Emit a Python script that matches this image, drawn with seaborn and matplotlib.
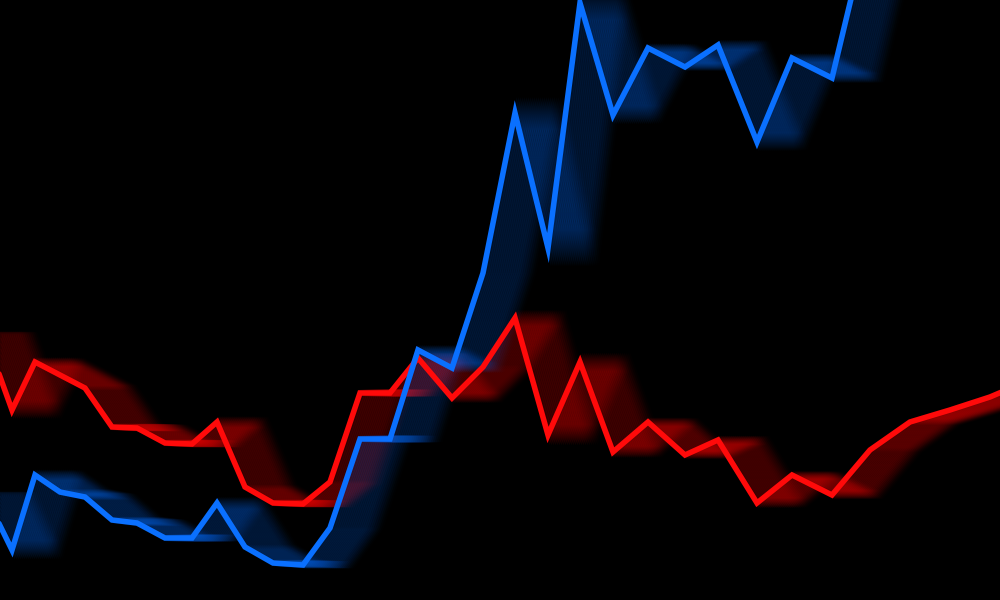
import seaborn as sns
import pandas as pd
import numpy as np
import matplotlib.pyplot as plt
from matplotlib import transforms

# values (height from the bottom edge)
x = [-15, 12, 35, 60, 85, 112, 137, 165, 192, 217, 245, 273, 303, 330, 360, 390,
     418, 452, 483, 515, 548, 580, 613, 648, 685, 718, 757, 792, 832, 870, 910,
     950, 990, 1030]
red = [265, 190, 238, 225, 212, 173, 172, 157, 156, 178, 113, 97, 96, 118, 207,
       207, 242, 202, 233, 282, 165, 238, 148, 178, 145, 160, 97, 125, 105, 150,
       178, 190, 203, 220]
blue = [105, 50, 125, 108, 103, 80, 77, 62, 62, 97, 53, 37, 35, 72, 161, 161,
        250, 232, 327, 487, 352, 597, 485, 552, 533, 555, 458, 542, 522, 680,
        760, 800, 840, 880]

df = pd.DataFrame({"x": x, "red": red, "blue": blue})

sns.set_style("white")
fig = plt.figure(figsize=(10, 6), dpi=100, facecolor="black")
ax = fig.add_axes([0, 0, 1, 1])
ax.set_facecolor("black")

colors = {"red": "#ff0a0a", "blue": "#0a70ff"}
ghost_alpha = {"red": 0.07, "blue": 0.06}

# smeared ghost copies shifted to the right
for col in ["red", "blue"]:
    for k in range(1, 26):
        tr = transforms.offset_copy(ax.transData, fig=fig, x=2 * k, y=0, units="dots")
        fade = 1 - max(0, k - 18) / 9
        ax.plot(df["x"], df[col], color=colors[col], lw=5,
                alpha=ghost_alpha[col] * fade,
                transform=tr, solid_joinstyle="miter", zorder=1)

for col in ["red", "blue"]:
    sns.lineplot(data=df, x="x", y=col, color=colors[col], lw=4, ax=ax,
                 solid_joinstyle="miter", zorder=3)

ax.set_xlim(0, 1000)
ax.set_ylim(0, 600)
ax.axis("off")
fig.savefig("out.png", dpi=100, facecolor="black")
